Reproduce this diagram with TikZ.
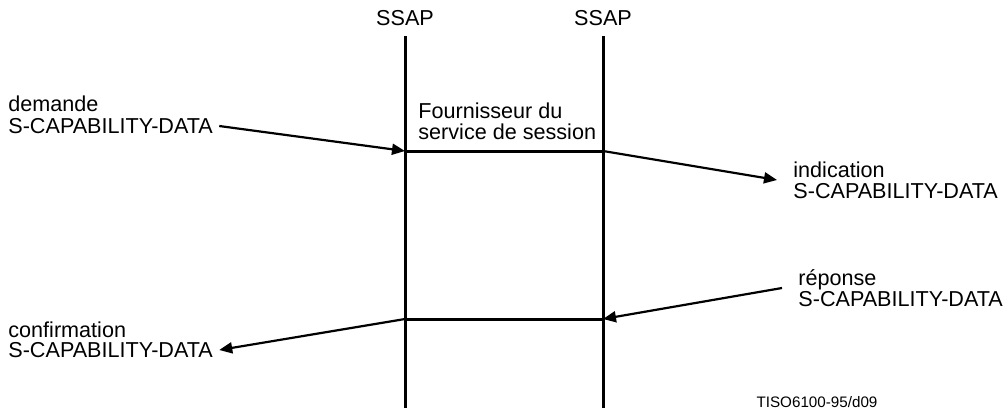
\documentclass[tikz,border=0pt]{standalone}
\usepackage{fontspec}
\setmainfont{Liberation Sans}
\usepackage{tikz}
\usetikzlibrary{positioning,calc,arrows.meta}

\begin{document}
\begin{tikzpicture}[
                x=0.5pt,y=-0.5pt,
                lbl/.style={font=\fontsize{10.8}{10.4}\selectfont,inner sep=3pt,align=left},
                life/.style={line width=1.5pt},
                msg/.style={line width=1.1pt,-{Triangle[length=6.5pt,width=5.5pt]}}
            ]
                \useasboundingbox (0,0) rectangle (1008,414);

                % entites SSAP
                \node[lbl] (ssapL) at (405,18) {SSAP};
                \node[lbl] (ssapR) at (603,18) {SSAP};
                \coordinate (topL) at (405,36);
                \coordinate (botL) at (405,408);
                \coordinate (topR) at (603,36);
                \coordinate (botR) at (603,408);
                \draw[life] (topL) -- (botL);
                \draw[life] (topR) -- (botR);

                \coordinate (inL) at (405,151);
                \coordinate (inR) at (603,151);
                \coordinate (outL) at (405,319);
                \coordinate (outR) at (603,319);
                \draw[life] (inL) -- (inR);
                \draw[life] (outL) -- (outR);

                \node[lbl,anchor=west] (prov) at (412,121) {Fournisseur du\\service de session};

                % primitives
                \node[lbl,anchor=west] (demA) at (2,104) {demande};
                \node[lbl,anchor=west] (demB) at (2,126) {S-CAPABILITY-DATA};
                \draw[msg] (demB.east) -- (inL);

                \node[lbl,anchor=west,inner xsep=8pt] (ind) at (777,180) {indication\\S-CAPABILITY-DATA};
                \draw[msg] (inR) -- (ind.west);

                \node[lbl,anchor=west,inner xsep=8pt] (rep) at (782,288) {réponse\\S-CAPABILITY-DATA};
                \draw[msg] (rep.west) -- (outR);

                \node[lbl,anchor=west] (confA) at (2,330) {confirmation};
                \node[lbl,anchor=west] (confB) at (2,350) {S-CAPABILITY-DATA};
                \draw[msg] (outL) -- (confB.east);

                \node[font=\fontsize{7.6}{8}\selectfont] (ref) at (817,402) {TISO6100-95/d09};
            \end{tikzpicture}
\end{document}
